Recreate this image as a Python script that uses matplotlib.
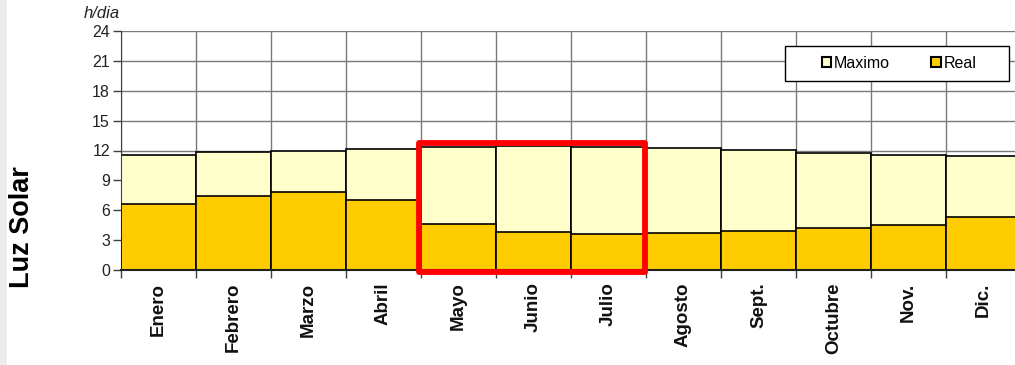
import matplotlib
matplotlib.use("Agg")
import matplotlib.pyplot as plt
from matplotlib.patches import Rectangle, Patch

plt.rcParams['font.family'] = ['Liberation Sans', 'DejaVu Sans']

months = ["Enero", "Febrero", "Marzo", "Abril", "Mayo", "Junio",
          "Julio", "Agosto", "Sept.", "Octubre", "Nov.", "Dic."]
maximo = [11.55, 11.8, 11.95, 12.2, 12.4, 12.5, 12.4, 12.25, 12.05, 11.7, 11.55, 11.4]
real = [6.63, 7.46, 7.86, 7.03, 4.65, 3.78, 3.65, 3.75, 3.9, 4.18, 4.5, 5.28]
y_ticks = [0, 3, 6, 9, 12, 15, 18, 21, 24]

W, H = 1015, 365
fig = plt.figure(figsize=(W / 100, H / 100), dpi=100)

# faint grey band along the left edge
fig.patches.append(Rectangle((0, 0), 7 / W, 1, transform=fig.transFigure,
                             facecolor="#ececec", edgecolor="none", zorder=0))

ax = fig.add_axes([121 / W, (H - 270) / H, 900 / W, 239 / H])
x = [i + 0.5 for i in range(len(months))]

ax.bar(x, maximo, width=1.0, color="#FFFFCC", edgecolor="black", linewidth=1.2, zorder=2)
ax.bar(x, real, width=1.0, color="#FFCC00", edgecolor="black", linewidth=1.2, zorder=3)

ax.set_xlim(0, 12)
ax.set_ylim(0, 24)
ax.set_yticks(y_ticks)
ax.set_yticklabels([str(v) for v in y_ticks], fontsize=11.5, color="#222222")
ax.set_xticks(range(13), minor=False)
ax.set_xticklabels([])
ax.set_xticks(x, minor=True)
ax.set_xticklabels(months, minor=True, rotation=90, fontsize=13.5,
                   fontweight="bold", va="top", ha="center", color="#111111")
ax.tick_params(axis="x", which="minor", length=0, pad=9)
ax.tick_params(axis="x", which="major", length=6, width=1, color="#404040")
ax.tick_params(axis="y", length=6, width=1, color="#404040", pad=2)

ax.grid(True, which="major", color="#7a7a7a", linewidth=1.0, zorder=0)
ax.set_axisbelow(True)
for s in ["top", "right"]:
    ax.spines[s].set_visible(False)
ax.spines["left"].set_color("#404040")
ax.spines["bottom"].set_color("#202020")
ax.spines["bottom"].set_linewidth(1.5)
ax.spines["bottom"].set_zorder(4)

# highlight the winter months
ax.add_patch(Rectangle((3.97, -0.17), 3.02, 12.92, fill=False, edgecolor="#FF0000",
                       linewidth=4.2, zorder=6, clip_on=False, joinstyle="round"))

# legend box with its two entries centred inside
box_x0, box_y0 = 664 / 900, (270 - 81) / 239
box_w, box_h = 224 / 900, 35 / 239
ax.add_patch(Rectangle((box_x0, box_y0), box_w, box_h, transform=ax.transAxes,
                       facecolor="white", edgecolor="black", linewidth=1.0,
                       zorder=7, clip_on=False))
handles = [Patch(facecolor="#FFFFCC", edgecolor="black", linewidth=1.5, label="Maximo"),
           Patch(facecolor="#FFCC00", edgecolor="black", linewidth=1.5, label="Real")]
leg = ax.legend(handles=handles, ncol=2, loc="center",
                bbox_to_anchor=(box_x0 + box_w / 2 + 2 / 900, box_y0 + box_h / 2),
                fontsize=11.5, frameon=False, handlelength=0.6, handleheight=0.6,
                handletextpad=0.15, columnspacing=2.6, borderpad=0,
                borderaxespad=0)
leg.set_zorder(8)

fig.text(120 / W, (H - 13) / H, "h/dia", fontsize=12, style="italic",
         ha="right", va="center", color="#222222")
fig.text(22 / W, (H - 227) / H, "Luz Solar", fontsize=19.5, fontweight="bold",
         rotation=90, ha="center", va="center")

fig.savefig("out.png", dpi=100)
